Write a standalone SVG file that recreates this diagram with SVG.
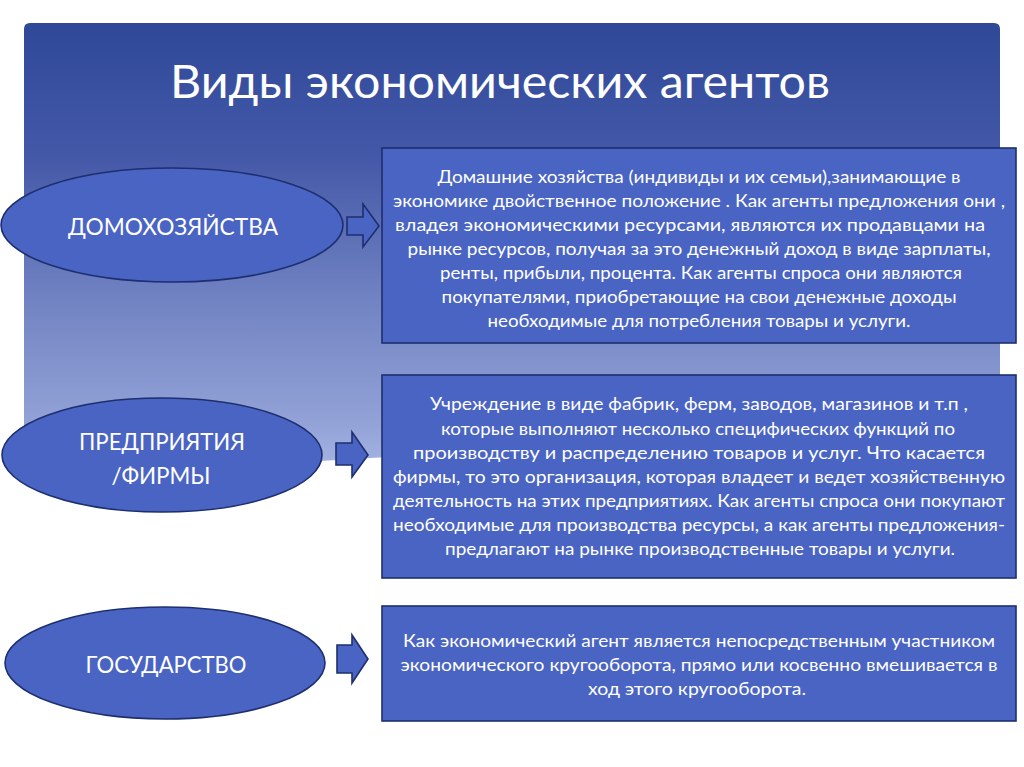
<svg xmlns="http://www.w3.org/2000/svg" width="1024" height="767" viewBox="0 0 1024 767">
<defs>
<linearGradient id="panelGrad" x1="0" y1="23" x2="0" y2="470" gradientUnits="userSpaceOnUse">
<stop offset="0" stop-color="#2f4898"/>
<stop offset="0.3" stop-color="#4458a8"/>
<stop offset="0.62" stop-color="#7183c2"/>
<stop offset="0.9" stop-color="#93a3d8"/>
<stop offset="1" stop-color="#a6b5e4"/>
</linearGradient>
<style>
.node{fill:#4a64c4;stroke:#1d2f6e;stroke-width:1.6}
.arrow{fill:#4a64c4;stroke:#1d2f6e;stroke-width:1.6;stroke-linejoin:miter}
.lbl{font-family:Lato,"Open Sans","Liberation Sans",sans-serif;fill:#ffffff;text-anchor:middle}
.big{font-size:23px}
.body{font-size:17px}
.title{font-family:Lato,"Open Sans","Liberation Sans",sans-serif;fill:#ffffff;font-size:46px}
</style>
</defs>
<rect x="0" y="0" width="1024" height="767" fill="#ffffff"/>
<path d="M24,29 Q24,23 30,23 H994 Q1000,23 1000,29 V430 C 800,440 520,450 370,458 C 250,465 120,474 24,470 Z" fill="url(#panelGrad)"/>
<text class="title" x="170" y="98" textLength="660" lengthAdjust="spacingAndGlyphs">Виды экономических агентов</text>

<g id="connectors">
<path class="arrow" d="M347,217 H363 V204 L379,226 L363,247 V235 H347 Z"/>
<path class="arrow" d="M336,443 H352 V432 L368,455 L352,477 V465 H336 Z"/>
<path class="arrow" d="M337,645 H352 V635 L368,659 L352,683 V673 H337 Z"/>
</g>

<g id="node-households">
<ellipse class="node" cx="172" cy="225" rx="171" ry="57"/>
<text class="lbl big" x="173" y="235" textLength="210" lengthAdjust="spacingAndGlyphs">ДОМОХОЗЯЙСТВА</text>
</g>
<g id="node-firms">
<ellipse class="node" cx="162" cy="455" rx="160" ry="57"/>
<text class="lbl big" x="162" y="450" textLength="166" lengthAdjust="spacingAndGlyphs">ПРЕДПРИЯТИЯ</text>
<text class="lbl big" x="161" y="484" textLength="99" lengthAdjust="spacingAndGlyphs">/ФИРМЫ</text>
</g>
<g id="node-state">
<ellipse class="node" cx="165" cy="663" rx="160" ry="56"/>
<text class="lbl big" x="166" y="673" textLength="161" lengthAdjust="spacingAndGlyphs">ГОСУДАРСТВО</text>
</g>

<g id="node-households-desc">
<rect class="node" x="382" y="148" width="634" height="195"/>
<text class="lbl body" x="699" y="183" textLength="523" lengthAdjust="spacingAndGlyphs">Домашние хозяйства (индивиды и их семьи),занимающие в</text>
<text class="lbl body" x="699" y="207" textLength="612" lengthAdjust="spacingAndGlyphs">экономике двойственное положение . Как агенты предложения они ,</text>
<text class="lbl body" x="690" y="231" textLength="590" lengthAdjust="spacingAndGlyphs">владея экономическими  ресурсами, являются их продавцами на</text>
<text class="lbl body" x="699" y="255" textLength="583" lengthAdjust="spacingAndGlyphs">рынке ресурсов, получая за это денежный доход  в виде зарплаты,</text>
<text class="lbl body" x="701" y="279" textLength="522" lengthAdjust="spacingAndGlyphs">ренты, прибыли, процента. Как агенты спроса они являются</text>
<text class="lbl body" x="699" y="303" textLength="515" lengthAdjust="spacingAndGlyphs">покупателями, приобретающие на свои денежные доходы</text>
<text class="lbl body" x="699" y="327" textLength="423" lengthAdjust="spacingAndGlyphs">необходимые для потребления товары и услуги.</text>
</g>

<g id="node-firms-desc">
<rect class="node" x="382" y="375" width="634" height="203"/>
<text class="lbl body" x="699" y="410" textLength="538" lengthAdjust="spacingAndGlyphs">Учреждение в виде фабрик, ферм, заводов, магазинов и  т.п ,</text>
<text class="lbl body" x="698" y="435" textLength="514" lengthAdjust="spacingAndGlyphs">которые выполняют несколько специфических функций по</text>
<text class="lbl body" x="699" y="459" textLength="572" lengthAdjust="spacingAndGlyphs">производству и распределению товаров и услуг. Что касается</text>
<text class="lbl body" x="699" y="483" textLength="612" lengthAdjust="spacingAndGlyphs">фирмы, то это организация, которая владеет  и ведет  хозяйственную</text>
<text class="lbl body" x="699" y="507" textLength="612" lengthAdjust="spacingAndGlyphs">деятельность на этих предприятиях. Как агенты спроса они покупают</text>
<text class="lbl body" x="699" y="531" textLength="612" lengthAdjust="spacingAndGlyphs">необходимые для производства ресурсы, а как агенты предложения-</text>
<text class="lbl body" x="700" y="555" textLength="510" lengthAdjust="spacingAndGlyphs">предлагают на рынке производственные товары и услуги.</text>
</g>

<g id="node-state-desc">
<rect class="node" x="382" y="606" width="634" height="115"/>
<text class="lbl body" x="699" y="647" textLength="592" lengthAdjust="spacingAndGlyphs">Как экономический агент  является непосредственным  участником</text>
<text class="lbl body" x="699" y="671" textLength="597" lengthAdjust="spacingAndGlyphs">экономического кругооборота, прямо или косвенно вмешивается в</text>
<text class="lbl body" x="697" y="695" textLength="218" lengthAdjust="spacingAndGlyphs">ход этого кругооборота.</text>
</g>
</svg>
